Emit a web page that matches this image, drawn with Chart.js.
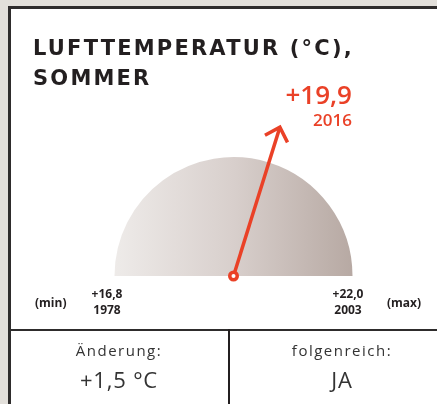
<!DOCTYPE html>
<html>
<head>
<meta charset="utf-8">
<script src="https://cdn.jsdelivr.net/npm/chart.js@4.4.1/dist/chart.umd.min.js"></script>
<style>
  html, body { margin: 0; padding: 0; }
  body { width: 437px; height: 404px; overflow: hidden; background: #e2dfda; position: relative; font-family: "Open Sans", sans-serif; }
  #card { position: absolute; left: 8px; top: 6px; width: 450px; height: 420px; background: #fff;
          border-left: 3px solid #2e2c2c; border-top: 3px solid #2e2c2c; box-sizing: border-box; }
  #hline { position: absolute; left: 8px; top: 329px; width: 440px; height: 2px; background: #2e2c2c; }
  #vline { position: absolute; left: 228px; top: 329px; width: 2px; height: 80px; background: #231f20; }
  canvas { position: absolute; left: 0; top: 0; }
  .t { position: absolute; white-space: nowrap; }
  #title { left: 33px; top: 33px; font-family: "DejaVu Sans", sans-serif; font-size: 21px; font-weight: 700; letter-spacing: 2.2px; line-height: 30px; color: #231f20; }
  .val { color: #ea4127; font-weight: 600; text-align: right; }
  #vnum { right: 85px; top: 78px; font-size: 26px; line-height: 32px; }
  #vyear { right: 85px; top: 109px; font-size: 17px; line-height: 22px; }
  .tick { font-size: 12px; font-weight: 700; color: #231f20; text-align: center; line-height: 16px; width: 60px; }
  .mm { font-size: 12px; font-weight: 700; color: #231f20; line-height: 16px; }
  .lab { font-size: 15px; font-weight: 400; color: #333; letter-spacing: 1.5px; text-align: center; width: 200px; }
  .big { font-size: 22px; font-weight: 400; color: #333; letter-spacing: 0.8px; text-align: center; width: 200px; }
</style>
</head>
<body>
<div id="card"></div>
<div id="hline"></div>
<div id="vline"></div>
<canvas id="c" width="437" height="404"></canvas>
<div id="title" class="t">LUFTTEMPERATUR (°C),<br>SOMMER</div>
<div id="vnum" class="t val"></div>
<div id="vyear" class="t val"></div>
<div id="tmin" class="t tick" style="left:77px; top:286px;"></div>
<div id="tmax" class="t tick" style="left:318px; top:286px;"></div>
<div class="t mm" style="left:35px; top:295px;">(min)</div>
<div class="t mm" style="left:387px; top:295px;">(max)</div>
<div id="l1" class="t lab" style="left:19px; top:340px;"></div>
<div id="v1" class="t big" style="left:19px; top:364px;"></div>
<div id="l2" class="t lab" style="left:242px; top:340px;"></div>
<div id="v2" class="t big" style="left:242px; top:364px;"></div>
<script>
// ---- data ----
const rangeValues = [16.8, 22.0];          // min, max
const rangeYears = ["1978", "2003"];
const currentValue = 19.9;
const currentYear = "2016";
const tickLabels = ["+16,8", "+22,0"];
const currentLabel = "+19,9";
const infoLabels = ["Änderung:", "folgenreich:"];
const infoValues = ["+1,5 °C", "JA"];

// ---- text ----
document.getElementById('vnum').textContent = currentLabel;
document.getElementById('vyear').textContent = currentYear;
document.getElementById('tmin').innerHTML = tickLabels[0] + '<br>' + rangeYears[0];
document.getElementById('tmax').innerHTML = tickLabels[1] + '<br>' + rangeYears[1];
document.getElementById('l1').textContent = infoLabels[0];
document.getElementById('l2').textContent = infoLabels[1];
document.getElementById('v1').textContent = infoValues[0];
document.getElementById('v2').textContent = infoValues[1];

const RED = '#ea4127';

function gaugeFill(ctx) {
  const chart = ctx.chart;
  const a = chart.chartArea;
  if (!a) return '#d6cdca';
  const g = chart.ctx.createLinearGradient(a.left, 0, a.right, 0);
  g.addColorStop(0, '#eeebe9');
  g.addColorStop(0.5, '#d8cfcc');
  g.addColorStop(1, '#b7a9a3');
  return g;
}

const needle = {
  id: 'needle',
  afterDatasetsDraw(chart) {
    const arc = chart.getDatasetMeta(0).data[0];
    const cx = arc.x, cy = arc.y, R = arc.outerRadius;
    const ang = arc.endAngle;
    const L = R * 1.31;
    const tx = cx + L * Math.cos(ang), ty = cy + L * Math.sin(ang);
    const c = chart.ctx;
    c.save();
    c.strokeStyle = RED;
    c.lineWidth = 3.5;
    c.lineCap = 'butt';
    c.beginPath();
    c.moveTo(cx, cy);
    c.lineTo(tx, ty);
    c.stroke();
    const back = ang + Math.PI;
    const hl = 17, spread = 44 * Math.PI / 180;
    c.lineJoin = 'miter';
    c.beginPath();
    c.moveTo(tx + hl * Math.cos(back - spread), ty + hl * Math.sin(back - spread));
    c.lineTo(tx, ty);
    c.lineTo(tx + hl * Math.cos(back + spread), ty + hl * Math.sin(back + spread));
    c.stroke();
    c.beginPath();
    c.arc(cx, cy, 5.5, 0, Math.PI * 2);
    c.fillStyle = RED;
    c.fill();
    c.beginPath();
    c.arc(cx, cy, 2, 0, Math.PI * 2);
    c.fillStyle = '#fff';
    c.fill();
    c.restore();
  }
};

new Chart(document.getElementById('c'), {
  type: 'doughnut',
  data: {
    labels: ['bis ' + currentYear, 'Rest'],
    datasets: [{
      data: [currentValue - rangeValues[0], rangeValues[1] - currentValue],
      backgroundColor: gaugeFill,
      borderWidth: 0,
      hoverOffset: 0
    }]
  },
  options: {
    responsive: false,
    animation: false,
    rotation: -90,
    circumference: 180,
    cutout: 0,
    layout: { padding: { left: 114, right: 84, top: 157, bottom: 128 } },
    plugins: { legend: { display: false }, tooltip: { enabled: false } },
    events: []
  },
  plugins: [needle]
});
</script>
</body>
</html>
